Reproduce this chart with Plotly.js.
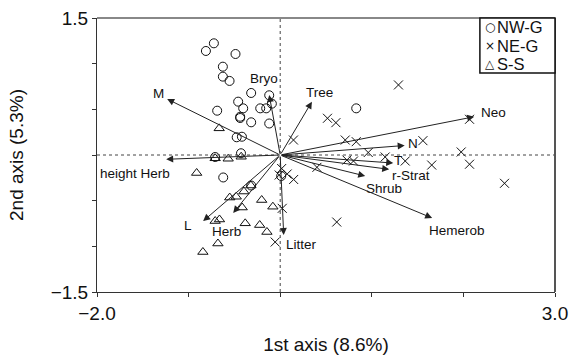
<!DOCTYPE html>
<html>
<head>
<meta charset="utf-8">
<script src="https://cdn.plot.ly/plotly-3.0.1.min.js"></script>
<style>html,body{margin:0;padding:0;background:#fff;}#chart{width:569px;height:358px;}</style>
</head>
<body>
<div id="chart"></div>
<script>
// Sample scores: NW-G (circles)
const nwgX = [-0.811,-0.724,-0.488,-0.626,-0.626,-0.553,-0.317,-0.120,-0.091,-0.459,-0.404,-0.688,-0.218,-0.153,-0.437,-0.437,-0.317,-0.120,-0.475,-0.418,-0.428,-0.710,-0.622,-0.317,0.830,0.011];
const nwgY = [1.139,1.223,1.106,0.967,0.858,0.811,0.679,0.654,0.562,0.584,0.511,0.485,0.511,0.511,0.419,0.405,0.358,0.345,0.194,0.200,0.019,-0.022,-0.246,-0.334,0.511,-0.230];
// NE-G (crosses)
const negX = [1.291,0.516,0.608,0.145,0.710,0.830,0.961,1.146,0.728,0.800,0.401,0.016,-0.011,0.076,0.147,0.022,-0.055,0.617,1.365,1.558,1.654,1.976,2.067,2.067,2.449];
const negY = [0.767,0.402,0.354,0.164,0.164,0.146,0.027,-0.022,-0.055,-0.066,-0.135,-0.148,-0.219,-0.208,-0.268,-0.584,-0.953,-0.734,-0.066,0.157,-0.110,0.033,-0.101,0.391,-0.310];
// S-S (triangles)
const ssX = [-0.666,-0.710,-0.568,-0.426,-0.912,-0.320,-0.396,-0.480,-0.551,-0.202,-0.080,-0.415,-0.710,-0.663,-0.382,-0.224,-0.145,-0.680,-0.844];
const ssY = [0.292,-0.036,-0.041,-0.019,-0.197,-0.334,-0.400,-0.457,-0.466,-0.493,-0.566,-0.575,-0.723,-0.706,-0.748,-0.767,-0.843,-0.969,-1.062];
// Environmental vectors
const vecNames = ["Bryo","M","Tree","Neo","N","T","r-Strat","Shrub","Hemerob","Litter","height Herb","L","Herb"];
const vecX = [-0.120,-1.234,0.346,2.118,1.359,1.234,1.190,0.928,1.659,0.038,-1.245,-0.841,-0.513];
const vecY = [0.657,0.613,0.584,0.419,0.104,-0.088,-0.157,-0.230,-0.690,-0.876,-0.047,-0.723,-0.635];
const groupNames = ["NW-G","NE-G","S-S"];
const groupGlyphs = ["\u25CB","\u00D7","\u25B3"];
const xTickVals = [-2,-1,0,1,2,3];
const xTickText = ["\u22122.0","","","","","3.0"];
const yTickVals = [-1.5,-1,-0.5,0,0.5,1,1.5];
const yTickText = ["\u22121.5","","","","","","1.5"];

// label placement (pixel offsets from arrow tip)
const labelStyle = {
  "Bryo":{dx:-5,dy:16,anchor:"center"},
  "M":{dx:-9,dy:6,anchor:"center"},
  "Tree":{dx:8,dy:9,anchor:"center"},
  "Neo":{dx:19,dy:4,anchor:"center"},
  "N":{dx:2,dy:2,anchor:"left"},
  "T":{dx:0,dy:3,anchor:"left"},
  "r-Strat":{dx:2,dy:-6,anchor:"left"},
  "Shrub":{dx:19,dy:-12,anchor:"center"},
  "Hemerob":{dx:25,dy:-12,anchor:"center"},
  "Litter":{dx:1,dy:-9,anchor:"left"},
  "height Herb":{dx:-31,dy:-14,anchor:"center"},
  "L":{dx:-15,dy:-4,anchor:"center"},
  "Herb":{dx:-7,dy:-18,anchor:"center"}
};
const FONT = 'Liberation Sans, Arial, sans-serif';

const mk = {size:9, line:{color:'#111', width:1}, color:'#111'};
const traces = [
  {x:nwgX, y:nwgY, name:groupNames[0], mode:'markers', type:'scatter', marker:Object.assign({}, mk, {symbol:'circle-open'})},
  {x:negX, y:negY, name:groupNames[1], mode:'markers', type:'scatter', marker:Object.assign({}, mk, {symbol:'x-thin-open'})},
  {x:ssX, y:ssY, name:groupNames[2], mode:'markers', type:'scatter', marker:Object.assign({}, mk, {symbol:'triangle-up-open'})}
];

const annotations = [];
vecNames.forEach((n,i)=>{
  annotations.push({x:vecX[i], y:vecY[i], ax:0, ay:0, axref:'x', ayref:'y', xref:'x', yref:'y',
    text:'', showarrow:true, arrowhead:2, arrowsize:1.4, arrowwidth:1, arrowcolor:'#222', standoff:0, startstandoff:0});
  const s = labelStyle[n];
  annotations.push({x:vecX[i], y:vecY[i], xref:'x', yref:'y', text:n, showarrow:false,
    xanchor:s.anchor, yanchor:'middle', xshift:s.dx, yshift:s.dy, borderpad:0,
    font:{family:FONT, size:13.5, color:'#111'}});
});
// legend box (manual)
const legRowY = [0.966, 0.899, 0.832];
groupNames.forEach((g,i)=>{
  annotations.push({xref:'paper', yref:'paper', x:0.857, y:legRowY[i], text:groupGlyphs[i], showarrow:false,
    xanchor:'center', yanchor:'middle', borderpad:0, font:{family:'DejaVu Sans, sans-serif', size:12, color:'#111'}});
  annotations.push({xref:'paper', yref:'paper', x:0.871, y:legRowY[i], text:g, showarrow:false,
    xanchor:'left', yanchor:'middle', borderpad:0, font:{family:FONT, size:16.5, color:'#111'}});
});

const layout = {
  width:569, height:358,
  margin:{l:97, r:14, t:18, b:66},
  paper_bgcolor:'#fff', plot_bgcolor:'#fff',
  font:{family:FONT, color:'#111'},
  showlegend:false,
  xaxis:{range:[-2,3], tickvals:xTickVals, ticktext:xTickText, ticks:'outside', ticklen:4, tickcolor:'#333',
    showline:true, linecolor:'#333', linewidth:1, showgrid:false, zeroline:false,
    tickfont:{size:19}, title:{text:'1st axis (8.6%)', font:{size:19}, standoff:14}},
  yaxis:{range:[-1.5,1.5], tickvals:yTickVals, ticktext:yTickText, ticks:'outside', ticklen:4, tickcolor:'#333',
    showline:true, linecolor:'#333', linewidth:1, showgrid:false, zeroline:false,
    tickfont:{size:19}, title:{text:'2nd axis (5.3%)', font:{size:19}, standoff:22}},
  shapes:[
    {type:'line', xref:'x', yref:'paper', x0:0, x1:0, y0:0, y1:1, line:{color:'#444', width:1, dash:'dot'}},
    {type:'line', xref:'paper', yref:'y', x0:0, x1:1, y0:0, y1:0, line:{color:'#444', width:1, dash:'dot'}},
    {type:'line', xref:'paper', yref:'paper', x0:0, x1:1, y0:1, y1:1, line:{color:'#888', width:2}},
    {type:'line', xref:'paper', yref:'paper', x0:1, x1:1, y0:0, y1:1, line:{color:'#555', width:2}},
    {type:'rect', xref:'paper', yref:'paper', x0:0.836, x1:1, y0:0.799, y1:1, fillcolor:'#fff', line:{color:'#111', width:1.5}, layer:'above'}
  ],
  annotations:annotations
};
Plotly.newPlot('chart', traces, layout, {displayModeBar:false, staticPlot:true});
</script>
</body>
</html>
